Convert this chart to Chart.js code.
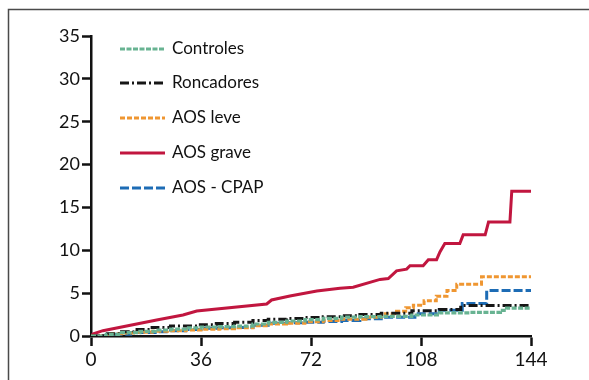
<!DOCTYPE html>
<html>
<head>
<meta charset="utf-8">
<script src="https://cdn.jsdelivr.net/npm/chart.js@4/dist/chart.umd.min.js"></script>
<style>
  html, body { margin: 0; padding: 0; background: #fff; }
  #wrap { width: 589px; height: 380px; }
</style>
</head>
<body>
<div id="wrap"><canvas id="chart" width="589" height="380"></canvas></div>
<script>
// Tick labels
const xTicks = [0, 36, 72, 108, 144];
const yTicks = [0, 5, 10, 15, 20, 25, 30, 35];

// Series (time, cumulative value)
const controlesX = [0, 5, 10, 16, 21, 26, 31, 36, 42, 47, 53, 58, 64, 70, 76, 82, 88, 95, 105, 114, 124, 134, 136, 144];
const controlesY = [0, 0.2, 0.4, 0.55, 0.7, 0.8, 0.95, 1.05, 1.1, 1.15, 1.4, 1.6, 1.75, 1.9, 2.05, 2.2, 2.25, 2.3, 2.45, 2.7, 2.75, 3.0, 3.25, 3.25];

const roncadoresX = [0, 4, 10, 14, 20, 26, 35, 41, 47, 53, 58, 64, 70, 76, 82, 88, 95, 105, 114, 121, 130, 144];
const roncadoresY = [0, 0.25, 0.5, 0.75, 1.0, 1.17, 1.3, 1.45, 1.6, 1.8, 1.95, 2.05, 2.15, 2.25, 2.35, 2.5, 2.65, 2.95, 3.1, 3.55, 3.55, 3.55];

const leveX = [0, 6, 10, 15, 20, 25, 31, 36, 42, 47, 53, 58, 64, 70, 76, 82, 90, 95, 100, 103, 105.5, 109, 113, 116.5, 119.7, 127.8, 144];
const leveY = [0, 0.25, 0.35, 0.45, 0.55, 0.6, 0.7, 0.78, 0.85, 0.95, 1.2, 1.4, 1.5, 1.65, 1.8, 1.95, 2.2, 2.6, 2.9, 3.3, 3.6, 4.1, 4.65, 5.3, 6.05, 6.9, 6.9];

const graveX = [0, 0.75, 3.9, 21.5, 30.1, 34.6, 57.5, 59.1, 65.1, 73.9, 81.5, 85.8, 94.6, 97.3, 100, 103.3, 104.4, 108.7, 110.4, 113.1, 114.2, 115.8, 120.7, 121.8, 129, 130.1, 137.1, 137.7, 144];
const graveY = [0, 0.25, 0.62, 1.87, 2.45, 2.92, 3.73, 4.2, 4.67, 5.25, 5.57, 5.68, 6.6, 6.7, 7.6, 7.8, 8.2, 8.2, 8.9, 8.9, 9.8, 10.8, 10.8, 11.8, 11.8, 13.3, 13.3, 16.9, 16.9];

const cpapX = [0, 6, 13, 21, 26, 31, 36, 42, 47, 53, 58, 64, 70, 76, 82, 88, 95, 106, 114, 121.5, 129.5, 144];
const cpapY = [0, 0.2, 0.4, 0.5, 0.6, 0.75, 0.9, 0.95, 1.0, 1.25, 1.48, 1.55, 1.6, 1.7, 1.8, 2.0, 2.2, 2.6, 3.0, 3.8, 5.3, 5.3];

const pts = (xs, ys) => xs.map((x, i) => ({ x, y: ys[i] }));

const FONT = 'Lato, "Open Sans", sans-serif';

// Legend rows drawn by hand, stacked on the left of the plot
const legendRows = [49, 83, 118, 153, 188];

const framePlugin = {
    id: 'frame',
    beforeDraw(chart) {
        const ctx = chart.ctx;
        ctx.save();
        ctx.strokeStyle = '#4a4a4a';
        ctx.lineWidth = 1.5;
        ctx.strokeRect(8.5, 9.5, 620, 420);
        ctx.restore();
    }
};

const legendPlugin = {
    id: 'sideLegend',
    afterDraw(chart) {
        const ctx = chart.ctx;
        ctx.save();
        chart.data.datasets.forEach((ds, i) => {
            const y = legendRows[i];
            ctx.beginPath();
            ctx.strokeStyle = ds.borderColor;
            ctx.lineWidth = ds.borderWidth;
            ctx.setLineDash(ds.borderDash || []);
            ctx.moveTo(120, y);
            ctx.lineTo(165, y);
            ctx.stroke();
            ctx.setLineDash([]);
            ctx.fillStyle = '#111';
            ctx.font = '17px ' + FONT;
            ctx.textBaseline = 'middle';
            ctx.textAlign = 'left';
            ctx.fillText(ds.label, 172, y);
        });
        ctx.restore();
    }
};

new Chart(document.getElementById('chart'), {
    type: 'line',
    data: {
        datasets: [
            { label: 'Controles', data: pts(controlesX, controlesY), borderColor: '#68b392', borderWidth: 3.2, borderDash: [5, 1.5], stepped: true },
            { label: 'Roncadores', data: pts(roncadoresX, roncadoresY), borderColor: '#161616', borderWidth: 3, borderDash: [9, 3, 2, 3], stepped: true },
            { label: 'AOS leve', data: pts(leveX, leveY), borderColor: '#ef9631', borderWidth: 3, borderDash: [5, 2], stepped: true },
            { label: 'AOS grave', data: pts(graveX, graveY), borderColor: '#c1163f', borderWidth: 3 },
            { label: 'AOS - CPAP', data: pts(cpapX, cpapY), borderColor: '#1d6cb5', borderWidth: 3, borderDash: [9, 3], stepped: true }
        ]
    },
    options: {
        responsive: false,
        animation: false,
        layout: { padding: { top: 36, right: 58, bottom: 0, left: 0 } },
        elements: { point: { radius: 0 }, line: { tension: 0, borderCapStyle: 'butt' } },
        plugins: { legend: { display: false }, tooltip: { enabled: false } },
        scales: {
            x: {
                type: 'linear',
                min: 0,
                max: 144,
                afterBuildTicks: s => { s.ticks = xTicks.map(v => ({ value: v })); },
                afterFit: s => { s.height = 44; },
                border: { color: '#111', width: 2.5 },
                grid: { drawOnChartArea: false, tickLength: 10, tickColor: '#111', tickWidth: 2.5 },
                ticks: { color: '#111', font: { family: FONT, size: 19 }, padding: 2, maxRotation: 0 }
            },
            y: {
                min: 0,
                max: 35,
                afterBuildTicks: s => { s.ticks = yTicks.map(v => ({ value: v })); },
                afterFit: s => { s.width = 91; },
                border: { color: '#111', width: 2.5 },
                grid: { drawOnChartArea: false, tickLength: 9, tickColor: '#111', tickWidth: 2.5 },
                ticks: { color: '#111', font: { family: FONT, size: 18 }, padding: 2 }
            }
        }
    },
    plugins: [framePlugin, legendPlugin]
});
</script>
</body>
</html>
